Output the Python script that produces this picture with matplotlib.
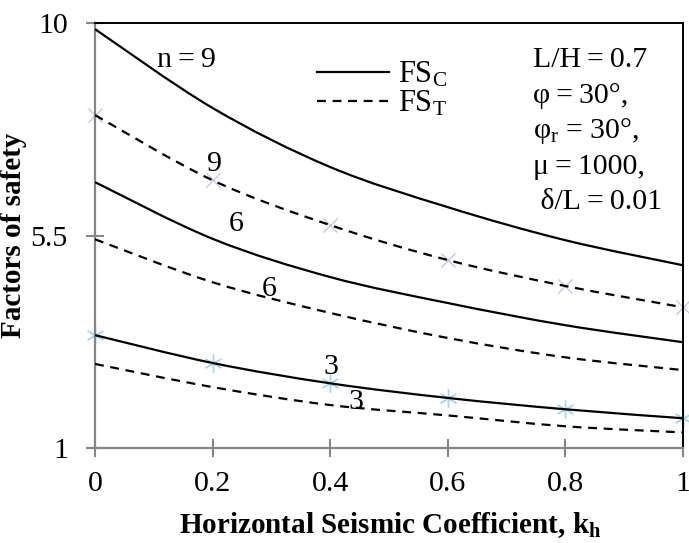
import numpy as np
import matplotlib
matplotlib.use("Agg")
from matplotlib import pyplot as plt
from matplotlib.path import Path
from matplotlib.patches import PathPatch

plt.rcParams['font.family'] = ['Liberation Serif', 'DejaVu Serif']
plt.rcParams['mathtext.fontset'] = 'custom'
plt.rcParams['mathtext.rm'] = 'Liberation Serif'
plt.rcParams['mathtext.it'] = 'Liberation Serif:italic'
plt.rcParams['mathtext.bf'] = 'Liberation Serif:bold'
plt.rcParams['mathtext.default'] = 'regular'

# horizontal seismic coefficient
kh = [0, 0.2, 0.4, 0.6, 0.8, 1.0]

# factor of safety, compression (solid) and tension (dashed), per n
fsc_n9 = [9.87, 8.20, 6.95, 6.10, 5.40, 4.87]
fst_n9 = [8.05, 6.67, 5.72, 4.98, 4.43, 3.98]
fsc_n6 = [6.63, 5.43, 4.62, 4.07, 3.60, 3.24]
fst_n6 = [5.42, 4.51, 3.86, 3.33, 2.92, 2.65]
fsc_n3 = [3.39, 2.80, 2.37, 2.06, 1.82, 1.63]
fst_n3 = [2.78, 2.29, 1.91, 1.69, 1.46, 1.33]

x_ticks = [0, 0.2, 0.4, 0.6, 0.8, 1]
x_tick_labels = ['0', '0.2', '0.4', '0.6', '0.8', '1']
y_ticks = [1, 5.5, 10]
y_tick_labels = ['1', '5.5', '10']

grey = '#868686'
dash = (0, (4, 3))


def smooth_line(ax, xs, ys, **kw):
    # spreadsheet-style smoothed line: cubic Bezier segments through the points
    p = np.column_stack([xs, ys]).astype(float)
    ext = np.vstack([p[0], p, p[-1]])
    verts = [p[0]]
    codes = [Path.MOVETO]
    for i in range(len(p) - 1):
        c1 = p[i] + (ext[i + 2] - ext[i]) / 6
        c2 = p[i + 1] - (ext[i + 3] - ext[i + 1]) / 6
        verts += [c1, c2, p[i + 1]]
        codes += [Path.CURVE4] * 3
    patch = PathPatch(Path(verts, codes), fill=False, transform=ax.transData,
                      capstyle='butt', **kw)
    ax.add_patch(patch)


fig = plt.figure(figsize=(6.89, 5.43), dpi=100)
ax = fig.add_axes([95 / 689, 1 - 448 / 543, 588 / 689, 425 / 543])

# comparison points (drawn under the curves)
ax.plot(kh, fst_n9, ls='none', marker='x', ms=10, mew=1.0, color='#cbc6e4',
        clip_on=False, zorder=1)
ax.plot(kh, fsc_n3, ls='none', marker=(6, 2, 0), ms=13, mew=1.0, color='#a9d6e6',
        clip_on=False, zorder=1)

for fsc, fst in [(fsc_n9, fst_n9), (fsc_n6, fst_n6), (fsc_n3, fst_n3)]:
    smooth_line(ax, kh, fsc, color='black', lw=1.6, zorder=3)
    smooth_line(ax, kh, fst, color='black', lw=1.6, ls=dash, zorder=3)

ax.set_xlim(0, 1)
ax.set_ylim(1, 10)
ax.set_xticks(x_ticks, x_tick_labels)
ax.set_yticks(y_ticks, y_tick_labels)
ax.tick_params(direction='inout', length=13, width=1.5, color=grey,
               labelsize=21.5, labelcolor='black')
ax.tick_params(axis='y', pad=13)
ax.tick_params(axis='x', pad=10)

for side in ['left', 'bottom']:
    ax.spines[side].set_color(grey)
    ax.spines[side].set_linewidth(1.6)
for side in ['top', 'right']:
    ax.spines[side].set_color('black')
    ax.spines[side].set_linewidth(1.4)

ax.set_xlabel(r'Horizontal Seismic Coefficient, k$_\mathbf{h}$',
              fontsize=21, fontweight='bold')
ax.set_ylabel('Factors of safety', fontsize=21, fontweight='bold')
ax.xaxis.set_label_coords(0.502, -0.145)
ax.yaxis.set_label_coords(-0.115, 0.5)

# curve labels
fs = 21.5
ax.text(0.156, 9.22, 'n\u2009=\u20099', fontsize=fs, ha='center', va='center')
ax.text(0.204, 7.01, '9', fontsize=fs, ha='center', va='center')
ax.text(0.240, 5.74, '6', fontsize=fs, ha='center', va='center')
ax.text(0.296, 4.37, '6', fontsize=fs, ha='center', va='center')
ax.text(0.401, 2.71, '3', fontsize=fs, ha='center', va='center')
ax.text(0.444, 1.97, '3', fontsize=fs, ha='center', va='center')

# legend
h1, = ax.plot([], [], color='black', lw=1.6)
h2, = ax.plot([], [], color='black', lw=1.6, ls=dash)
ax.legend([h1, h2], [r'FS$_\mathrm{C}$', r'FS$_\mathrm{T}$'],
          loc='upper left', bbox_to_anchor=((317 - 95) / 588, (448 - 60) / 425),
          frameon=False, fontsize=22, handlelength=2.35, handletextpad=0.3,
          labelspacing=0.0, borderpad=0, borderaxespad=0)

# parameter block
params = ['L/H\u2009=\u20090.7', 'φ\u2009=\u200930°,', r'φ$_\mathrm{r}$ = 30°,',
          'μ\u2009=\u20091000,', ' δ/L\u2009=\u20090.01']
for i, line in enumerate(params):
    ax.text((533 - 95) / 588, 10 - (60 + 35.5 * i - 23) / 47.22, line,
            fontsize=21.5, ha='left', va='center')

fig.savefig('out.png', dpi=100)
